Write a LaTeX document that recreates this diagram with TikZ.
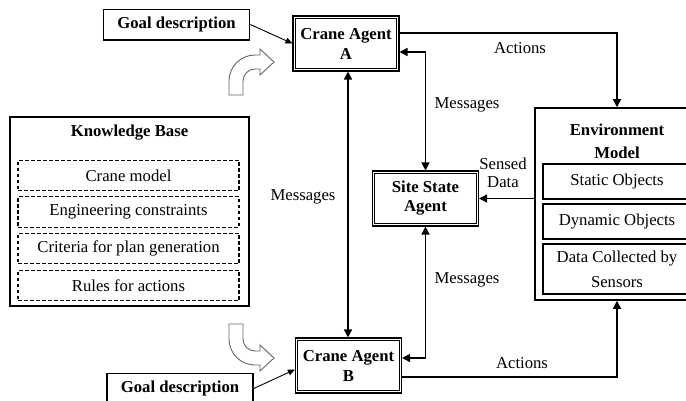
\documentclass[tikz,border=0pt]{standalone}
\usepackage{fontspec}
\setmainfont{Liberation Serif}
\usetikzlibrary{arrows.meta}
\tikzset{
  txt/.style={font=\fontsize{16.7}{20}\selectfont},
  agent/.style={draw, line width=1.1pt, fill=white,
    minimum width=106pt, minimum height=55pt, align=center, inner sep=0pt,
    font=\fontsize{16.7}{20}\selectfont\bfseries},
  innerframe/.style={line width=1.1pt},
  goalbox/.style={draw, line width=1.5pt, minimum width=146pt, minimum height=30.5pt,
    inner sep=0pt, font=\fontsize{16.7}{20}\selectfont\bfseries},
  kbitem/.style={draw, dash pattern=on 3.5pt off 2.5pt, line width=1.1pt,
    minimum width=221pt, minimum height=30.5pt, inner sep=0pt, txt},
  envitem/.style={draw, line width=1.6pt, minimum width=148pt, inner sep=0pt,
    align=center, txt},
  bigbox/.style={draw, line width=1.6pt, inner sep=0pt},
  conn/.style={line width=1.5pt, -{Triangle[length=8pt,width=8pt]}},
  bothconn/.style={line width=1.5pt, {Triangle[length=8pt,width=8pt]}-{Triangle[length=8pt,width=8pt]}},
  thinconn/.style={line width=0.9pt, -{Triangle[length=7pt,width=6pt]}},
  blockarrow/.style={draw=black!60, line width=0.9pt, fill=white},
}
\begin{document}
\begin{tikzpicture}[x=1pt,y=-1pt]
\clip (0,0) rectangle (686,400);
\fill[white] (0,0) rectangle (686,400);

% Knowledge base
\node[bigbox, minimum width=239pt, minimum height=189pt] (kb) at (129.5,211.5) {};
\node[txt, font=\fontsize{16.7}{20}\selectfont\bfseries] (kbtitle) at (129.5,133) {Knowledge Base};
\node[kbitem] (kb1) at (128.5,175.5) {Crane model};
\node[kbitem] (kb2) at (128.5,212) {Engineering constraints};
\node[kbitem] (kb3) at (128.5,248.5) {Criteria for plan generation};
\node[kbitem] (kb4) at (128.5,285.5) {Rules for actions};

% Goals
\node[goalbox] (goalA) at (176.5,24.5) {Goal description};
\node[goalbox] (goalB) at (180,388.5) {Goal description};

% Agents
\node[agent] (craneA) at (346,43.5) {Crane Agent\\A};
\node[agent] (craneB) at (348.5,365.5) {Crane Agent\\B};
\node[agent, font=\fontsize{16.7}{19}\selectfont\bfseries] (site) at (425.5,198.5) {Site State\\Agent};
\foreach \n in {craneA,craneB,site}
  \draw[innerframe] ([shift={(2.8pt,-2.8pt)}]\n.north west) rectangle ([shift={(-2.8pt,2.8pt)}]\n.south east);

% Environment model
\node[draw, line width=1.6pt, minimum width=164pt, minimum height=192pt, inner sep=0pt] (env) at (617,204) {};
\node[align=center, font=\fontsize{16.7}{23}\selectfont\bfseries] (envtitle) at (617,141.5) {Environment\\Model};
\node[envitem, minimum height=35pt] (env1) at (617,181.5) {Static Objects};
\node[envitem, minimum height=35pt] (env2) at (617,221.5) {Dynamic Objects};
\node[envitem, minimum height=50pt, font=\fontsize{16.7}{25}\selectfont] (env3) at (617,269) {Data Collected by\\Sensors};

% Block arrows
\path[blockarrow] (229,95) -- (229,81) .. controls (229,66.6) and (240.6,55) .. (255,55)
  -- (260,55) -- (260,49) -- (274,62) -- (260,75) -- (260,69) -- (255,69)
  .. controls (248.4,69) and (243,74.4) .. (243,81) -- (243,95) -- cycle;
\path[blockarrow] (229,324) -- (229,339) .. controls (229,353.4) and (240.6,365) .. (255,365)
  -- (260,365) -- (260,371) -- (274,358) -- (260,345) -- (260,351) -- (255,351)
  .. controls (248.4,351) and (243,345.6) .. (243,339) -- (243,324) -- cycle;

% Connectors
\coordinate (vx) at (348,0);
\draw[thinconn] (goalA.east) -- (craneA.west);
\draw[thinconn] (goalB.east) -- ([yshift=-4pt]craneB.west);
\draw[conn] ([yshift=10.5pt]craneA.east) -| (env.north);
\draw[bothconn] ([yshift=-8.5pt]craneA.east) -| (site.north);
\draw[bothconn] (craneA.south -| vx) -- (craneB.north -| vx);
\draw[bothconn] (site.south) |- ([yshift=7.5pt]craneB.east);
\draw[conn] (env.west |- site.east) -- (site.east);
\draw[conn] ([yshift=-11.5pt]craneB.east) -| (env.south);

% Labels
\node[txt] (actA) at (520,48) {Actions};
\node[txt] (actB) at (522,363) {Actions};
\node[txt] (msgA) at (467,105) {Messages};
\node[txt] (msgV) at (303,197) {Messages};
\node[txt] (msgB) at (467,280) {Messages};
\node[align=center, font=\fontsize{16.7}{18}\selectfont] (sensed) at (503,173) {Sensed\\Data};
\end{tikzpicture}
\end{document}
